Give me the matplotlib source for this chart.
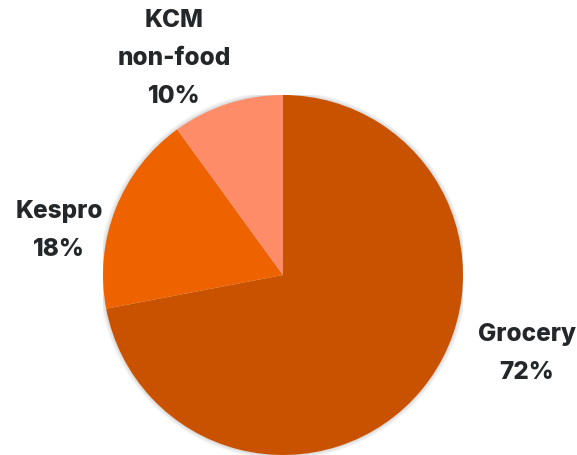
import matplotlib
matplotlib.use("Agg")
import matplotlib.pyplot as plt
from matplotlib.patches import Circle

categories = ["Grocery", "Kespro", "KCM\nnon-food"]
shares = [72, 18, 10]
colors = ["#C85200", "#EE6300", "#FF8C69"]
# label anchor (centre x, last-line baseline y) in axes-data units (radius = 1)
label_pos = [(1.353, -0.578), (-1.244, 0.106), (-0.606, 0.956)]

W, H = 577, 455
fig = plt.figure(figsize=(W / 100, H / 100), dpi=100)
cx, cy, r = 283, 275, 180
ax = fig.add_axes([(cx - r) / W, (H - cy - r) / H, 2 * r / W, 2 * r / H])

wedges, _ = ax.pie(shares, colors=colors, startangle=90, counterclock=False,
                   radius=1, wedgeprops=dict(linewidth=0))
for w in wedges:
    w.set_zorder(1)

# soft shadow
for i in range(6):
    ax.add_patch(Circle((0, 0), 1 + 0.004 * (i + 1), color="#000000",
                        alpha=0.025, lw=0, zorder=0))

ax.set_xlim(-1, 1)
ax.set_ylim(-1, 1)
ax.set_aspect("equal")
ax.axis("off")

for (name, val), (x, y) in zip(zip(categories, shares), label_pos):
    ax.text(x, y, f"{name}\n{val}%", ha="center", va="baseline",
            fontsize=17.5, fontweight="heavy", family="Inter",
            color="#23272A", linespacing=1.82, clip_on=False)

fig.savefig("out.png", dpi=100)
